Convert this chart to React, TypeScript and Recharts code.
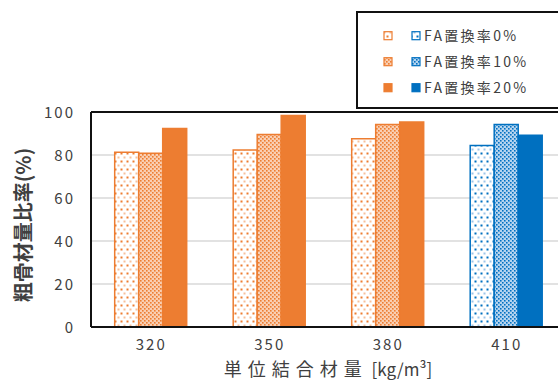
import React from 'react';
import { BarChart, Bar, XAxis, YAxis, CartesianGrid, Cell, ReferenceLine } from 'recharts';

const categories = ['320', '350', '380', '410'];
const rate0 = [81.3, 82.3, 87.6, 84.4];
const rate10 = [80.8, 89.5, 94.2, 94.2];
const rate20 = [92.3, 98.4, 95.3, 89.2];
const yTicks = [0, 20, 40, 60, 80, 100];
const seriesNames = ['FA置換率0%', 'FA置換率10%', 'FA置換率20%'];
const blueCategory = '410';
const xTitle = '単位結合材量';
const xUnit = ' [kg/m³]';
const yTitle = '粗骨材量比率(%)';

const ORANGE = '#ED7D31';
const ORANGE_L = '#F8C09A';
const BLUE = '#0070C0';
const BLUE_L = '#9DC6EA';
const FONT = '"Noto Sans CJK JP", "Noto Sans", sans-serif';

const data = categories.map((c, i) => ({ cat: c, r0: rate0[i], r10: rate10[i], r20: rate20[i] }));

const keys = ['r0', 'r10', 'r20'];

const fillFor = (k: string, cat: string) => {
  const blue = cat === blueCategory;
  if (k === 'r0') return blue ? 'url(#dotB)' : 'url(#dotO)';
  if (k === 'r10') return blue ? 'url(#denseB)' : 'url(#denseO)';
  return blue ? BLUE : ORANGE;
};

const Patterns = ({ suffix = '' }: { suffix?: string }) => (
  <defs>
    {[
      ['O', ORANGE, ORANGE_L],
      ['B', BLUE, BLUE_L],
    ].map(([n, c, l]) => (
      <React.Fragment key={n}>
        <pattern id={`dot${n}${suffix}`} width="6" height="8" patternUnits="userSpaceOnUse">
          <rect x="0" y="0" width="6" height="8" fill="#fff" />
          <rect x="0.5" y="0.5" width="2" height="2" fill={c} />
          <rect x="3.5" y="4.5" width="2" height="2" fill={l} />
        </pattern>
        <pattern id={`dense${n}${suffix}`} width="4" height="4" patternUnits="userSpaceOnUse">
          <rect x="0" y="0" width="4" height="4" fill={l} />
          <rect x="0" y="0" width="1.5" height="1.5" fill={c} />
          <rect x="2" y="2" width="1.5" height="1.5" fill={c} />
          <rect x="2.5" y="0.5" width="1" height="1" fill="#fff" />
          <rect x="0.5" y="2.5" width="1" height="1" fill="#fff" />
        </pattern>
      </React.Fragment>
    ))}
  </defs>
);

const XTick = (props: any) => {
  const { x, payload } = props;
  return (
    <text x={x + 1} y={350} textAnchor="middle" fontFamily={FONT} fontSize={15} letterSpacing={2} fill="#404040">
      {payload.value}
    </text>
  );
};

const YTick = (props: any) => {
  const { y, payload } = props;
  return (
    <text x={75} y={y + 5.5} textAnchor="end" fontFamily={FONT} fontSize={15} letterSpacing={2} fill="#404040">
      {payload.value}
    </text>
  );
};

const XLabel = (props: any) => {
  const vb = props.viewBox || { x: 91, width: 474 };
  const cx = vb.x + vb.width / 2;
  return (
    <text x={cx} y={376} textAnchor="middle" fontFamily={FONT} fill="#404040">
      <tspan fontSize={18} letterSpacing={6}>{xTitle}</tspan>
      <tspan fontSize={17} letterSpacing={0}>{xUnit}</tspan>
    </text>
  );
};

const YLabel = () => (
  <text
    x={22}
    y={225}
    transform="rotate(-90 22 225)"
    textAnchor="middle"
    dominantBaseline="central"
    fontFamily={FONT}
    fontSize={20}
    fontWeight="bold"
    fill="#404040"
  >
    {yTitle}
  </text>
);

const Legend = () => {
  const rows = [35.7, 61.7, 87.7];
  const oFills = ['url(#dotOL)', 'url(#denseOL)', ORANGE];
  const bFills = ['url(#dotBL)', 'url(#denseBL)', BLUE];
  return (
    <div
      style={{
        position: 'absolute',
        left: 356,
        top: 11,
        width: 240,
        height: 98,
        border: '2px solid #111',
        boxSizing: 'border-box',
        background: '#fff',
      }}
    >
      <svg width={240} height={98} style={{ position: 'absolute', left: -2, top: -2 }}>
        <Patterns suffix="L" />
        {rows.map((cy, i) => (
          <g key={i}>
            <rect x={384 - 356} y={cy - 11 - 4} width={8} height={8} fill={oFills[i]} stroke={ORANGE} strokeWidth={1.2} />
            <rect x={412 - 356} y={cy - 11 - 4} width={8} height={8} fill={bFills[i]} stroke={BLUE} strokeWidth={1.2} />
            <text x={424 - 356} y={cy - 11 + 5} fontFamily={FONT} fontSize={14} letterSpacing={2.3} fill="#404040">
              {seriesNames[i]}
            </text>
          </g>
        ))}
      </svg>
    </div>
  );
};

export default function App() {
  return (
    <div
      style={{
        position: 'fixed',
        left: 0,
        top: 0,
        width: 558,
        height: 381,
        overflow: 'hidden',
        background: '#fff',
      }}
    >
      <BarChart
        width={600}
        height={381}
        data={data}
        margin={{ top: 112, right: 35, bottom: 0, left: 0 }}
        barGap={0}
        barCategoryGap="20%"
      >
        <Patterns />
        <CartesianGrid vertical={false} stroke="#D9D9D9" strokeWidth={1.5} />
        <XAxis
          dataKey="cat"
          height={54}
          tickLine={false}
          axisLine={{ stroke: '#111', strokeWidth: 2 }}
          tick={<XTick />}
          label={<XLabel />}
        />
        <YAxis
          width={91}
          domain={[0, 100]}
          ticks={yTicks}
          tickLine={false}
          axisLine={{ stroke: '#111', strokeWidth: 2 }}
          tick={<YTick />}
          label={<YLabel />}
        />
        <ReferenceLine y={100} stroke="#111" strokeWidth={2} />
        {keys.map((k) => (
          <Bar key={k} dataKey={k} isAnimationActive={false} strokeWidth={1.5}>
            {data.map((d) => (
              <Cell
                key={d.cat}
                fill={fillFor(k, d.cat)}
                stroke={d.cat === blueCategory ? BLUE : ORANGE}
              />
            ))}
          </Bar>
        ))}
      </BarChart>
      <Legend />
    </div>
  );
}
